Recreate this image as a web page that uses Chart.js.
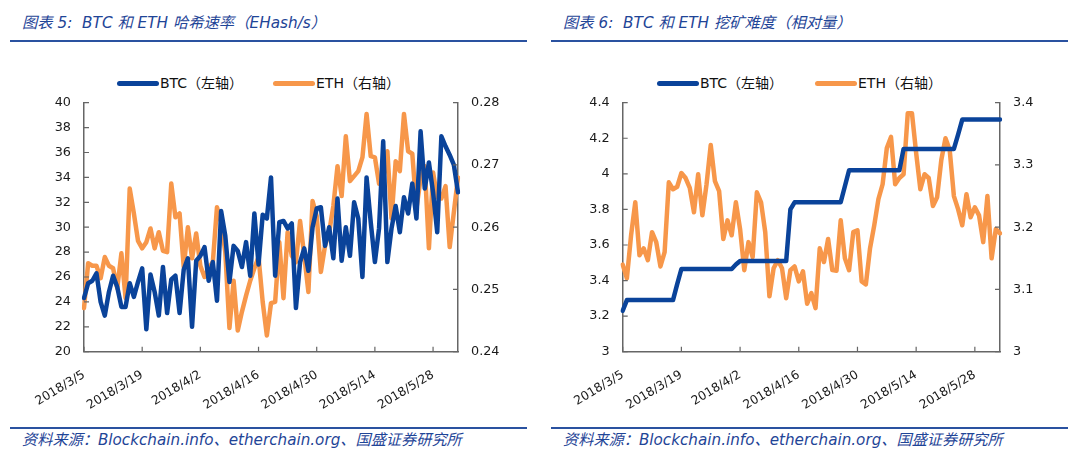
<!DOCTYPE html>
<html>
<head>
<meta charset="utf-8">
<script src="https://cdn.jsdelivr.net/npm/chart.js@4.4.1/dist/chart.umd.min.js"></script>
<style>
  body { margin: 0; width: 1080px; height: 463px; position: relative; background: #fff; overflow: hidden;
         font-family: "DejaVu Sans", "Noto Sans CJK SC", sans-serif; }
  .title, .source { position: absolute; color: #1f4597; font-style: italic; white-space: nowrap; }
  .title { font-size: 15.3px; top: 13px; line-height: 20px; }
  .source { font-size: 15.2px; top: 430px; line-height: 20px; }
  .rule { position: absolute; height: 2px; background: #2a52a0; width: 517px; }
  .legend-item { position: absolute; top: 75px; height: 17px; line-height: 17px; font-size: 14px; color: #111; white-space: nowrap; }
  .legend-item i { display: inline-block; width: 42px; height: 5px; border-radius: 3px; vertical-align: middle; margin-right: 1px; position: relative; top: -1px; }
  .box { position: absolute; top: 82px; width: 540px; height: 328px; }
</style>
</head>
<body>
<div class="title" style="left:22px">图表 5:&nbsp; BTC 和 ETH 哈希速率（EHash/s）</div>
<div class="rule" style="left:10px; top:40px"></div>
<div class="legend-item" style="left:117px"><i style="background:#0a439a"></i>BTC（左轴）</div>
<div class="legend-item" style="left:273px"><i style="background:#f7974a"></i>ETH（右轴）</div>
<div class="box" style="left:0"><canvas id="hashChart"></canvas></div>
<div class="rule" style="left:10px; top:427px"></div>
<div class="source" style="left:22px">资料来源：Blockchain.info、etherchain.org、国盛证券研究所</div>

<div class="title" style="left:563px">图表 6:&nbsp; BTC 和 ETH 挖矿难度（相对量）</div>
<div class="rule" style="left:551px; top:40px"></div>
<div class="legend-item" style="left:657px"><i style="background:#0a439a"></i>BTC（左轴）</div>
<div class="legend-item" style="left:815px"><i style="background:#f7974a"></i>ETH（右轴）</div>
<div class="box" style="left:540px"><canvas id="diffChart"></canvas></div>
<div class="rule" style="left:551px; top:427px"></div>
<div class="source" style="left:563px">资料来源：Blockchain.info、etherchain.org、国盛证券研究所</div>

<script>
// Dates (daily, 2018/3/5 - 2018/6/3)
const dates = [
  '2018/3/5','2018/3/6','2018/3/7','2018/3/8','2018/3/9','2018/3/10','2018/3/11','2018/3/12','2018/3/13','2018/3/14',
  '2018/3/15','2018/3/16','2018/3/17','2018/3/18','2018/3/19','2018/3/20','2018/3/21','2018/3/22','2018/3/23','2018/3/24',
  '2018/3/25','2018/3/26','2018/3/27','2018/3/28','2018/3/29','2018/3/30','2018/3/31','2018/4/1','2018/4/2','2018/4/3',
  '2018/4/4','2018/4/5','2018/4/6','2018/4/7','2018/4/8','2018/4/9','2018/4/10','2018/4/11','2018/4/12','2018/4/13',
  '2018/4/14','2018/4/15','2018/4/16','2018/4/17','2018/4/18','2018/4/19','2018/4/20','2018/4/21','2018/4/22','2018/4/23',
  '2018/4/24','2018/4/25','2018/4/26','2018/4/27','2018/4/28','2018/4/29','2018/4/30','2018/5/1','2018/5/2','2018/5/3',
  '2018/5/4','2018/5/5','2018/5/6','2018/5/7','2018/5/8','2018/5/9','2018/5/10','2018/5/11','2018/5/12','2018/5/13',
  '2018/5/14','2018/5/15','2018/5/16','2018/5/17','2018/5/18','2018/5/19','2018/5/20','2018/5/21','2018/5/22','2018/5/23',
  '2018/5/24','2018/5/25','2018/5/26','2018/5/27','2018/5/28','2018/5/29','2018/5/30','2018/5/31','2018/6/1','2018/6/2',
  '2018/6/3'
];
// Dates that get a label on the x axis
const tickDates = ['2018/3/5','2018/3/19','2018/4/2','2018/4/16','2018/4/30','2018/5/14','2018/5/28'];

// Chart 5: hash rate, EHash/s
const btcHash = [
  24.3,25.5,25.7,26.3,24.0,22.9,24.8,26.1,25.2,23.6,
  23.6,25.5,24.4,25.6,26.7,21.8,26.2,24.8,22.9,26.8,
  23.1,25.8,26.1,23.1,26.6,27.5,22.0,27.3,27.7,28.4,
  25.7,27.2,24.1,31.3,29.3,25.6,28.5,28.1,26.8,28.8,
  26.1,31.1,27.0,31.0,30.7,34.0,26.1,30.4,30.5,29.9,
  30.3,23.5,27.2,28.3,26.5,30.0,31.5,31.6,28.5,30.0,
  27.5,32.3,27.3,30.0,27.7,32.0,30.7,26.0,34.0,30.4,
  27.2,29.9,36.9,27.2,29.9,31.7,29.6,32.4,31.1,33.5,
  30.7,37.7,33.1,35.2,32.8,29.6,37.3,36.5,35.8,35.0,
  32.8
];
const ethHash = [
  0.2470,0.2542,0.2538,0.2538,0.2518,0.2552,0.2538,0.2534,0.2502,0.2558,
  0.2486,0.2662,0.2622,0.2578,0.2566,0.2576,0.2598,0.2566,0.2592,0.2562,
  0.2560,0.2670,0.2616,0.2622,0.2536,0.2600,0.2550,0.2590,0.2538,0.2520,
  0.2534,0.2544,0.2632,0.2608,0.2560,0.2438,0.2514,0.2434,0.2464,0.2490,
  0.2514,0.2534,0.2552,0.2480,0.2426,0.2478,0.2480,0.2576,0.2486,0.2592,
  0.2554,0.2544,0.2610,0.2554,0.2496,0.2642,0.2618,0.2528,0.2570,0.2592,
  0.2634,0.2698,0.2650,0.2746,0.2674,0.2682,0.2690,0.2712,0.2782,0.2714,
  0.2712,0.2670,0.2678,0.2722,0.2614,0.2706,0.2690,0.2782,0.2722,0.2718,
  0.2630,0.2678,0.2698,0.2566,0.2688,0.2648,0.2646,0.2666,0.2568,0.2624,
  0.2680
];

// Chart 6: mining difficulty (relative)
const btcDiff = [
  3.23,3.29,3.29,3.29,3.29,3.29,3.29,3.29,3.29,3.29,
  3.29,3.29,3.29,3.38,3.465,3.465,3.465,3.465,3.465,3.465,
  3.465,3.465,3.465,3.465,3.465,3.465,3.465,3.49,3.51,3.51,
  3.51,3.51,3.51,3.51,3.51,3.51,3.51,3.51,3.51,3.51,
  3.80,3.84,3.84,3.84,3.84,3.84,3.84,3.84,3.84,3.84,
  3.84,3.84,3.84,3.93,4.02,4.02,4.02,4.02,4.02,4.02,
  4.02,4.02,4.02,4.02,4.02,4.02,4.02,4.14,4.14,4.14,
  4.14,4.14,4.14,4.14,4.14,4.14,4.14,4.14,4.14,4.14,
  4.22,4.305,4.305,4.305,4.305,4.305,4.305,4.305,4.305,4.305,
  4.305
];
const ethDiff = [
  3.140,3.118,3.187,3.240,3.155,3.166,3.147,3.192,3.176,3.137,
  3.160,3.272,3.261,3.265,3.287,3.279,3.263,3.224,3.285,3.219,
  3.269,3.332,3.274,3.258,3.181,3.211,3.187,3.240,3.197,3.131,
  3.176,3.152,3.256,3.240,3.192,3.089,3.134,3.147,3.134,3.086,
  3.131,3.137,3.113,3.129,3.077,3.094,3.070,3.166,3.144,3.181,
  3.131,3.130,3.211,3.150,3.131,3.192,3.195,3.113,3.108,3.166,
  3.203,3.245,3.269,3.327,3.345,3.269,3.279,3.285,3.383,3.383,
  3.319,3.261,3.285,3.279,3.234,3.248,3.308,3.343,3.324,3.250,
  3.229,3.203,3.253,3.216,3.232,3.219,3.176,3.250,3.150,3.197,
  3.190
];

const BLUE = '#0a439a';
const ORANGE = '#f7974a';
const AXIS = '#666666';
const xFont = { family: '"DejaVu Sans", sans-serif', size: 12.3 };
const yFont = { family: '"DejaVu Sans", sans-serif', size: 12.8 };

// Excel style tick marks pointing into the plot
const innerTicks = {
  id: 'innerTicks',
  afterDraw(chart) {
    const ctx = chart.ctx;
    const len = 5;
    ctx.save();
    ctx.strokeStyle = AXIS;
    ctx.lineWidth = 1.2;
    ctx.beginPath();
    const x = chart.scales.x;
    x.ticks.forEach((t, i) => {
      if (!t.label) return;
      const px = x.getPixelForTick(i);
      ctx.moveTo(px, x.top);
      ctx.lineTo(px, x.top - len);
    });
    const yl = chart.scales.y;
    yl.ticks.forEach((t, i) => {
      const py = yl.getPixelForTick(i);
      ctx.moveTo(yl.right, py);
      ctx.lineTo(yl.right + len, py);
    });
    const yr = chart.scales.y1;
    yr.ticks.forEach((t, i) => {
      const py = yr.getPixelForTick(i);
      ctx.moveTo(yr.left, py);
      ctx.lineTo(yr.left - len, py);
    });
    ctx.stroke();
    ctx.restore();
  }
};

function lineSet(label, data, color, axis) {
  return {
    label: label,
    data: data,
    yAxisID: axis,
    borderColor: color,
    backgroundColor: color,
    borderWidth: 4.5,
    pointRadius: 0,
    tension: 0,
    borderJoinStyle: 'round',
    borderCapStyle: 'round'
  };
}

function makeChart(id, datasets, left, right, box) {
  const axisBase = {
    grid: { drawOnChartArea: false, drawTicks: false },
    border: { display: true, color: AXIS, width: 1.5 }
  };
  return new Chart(document.getElementById(id), {
    type: 'line',
    data: { labels: dates, datasets: datasets },
    options: {
      responsive: true,
      maintainAspectRatio: false,
      animation: false,
      layout: { padding: 0 },
      plugins: { legend: { display: false }, tooltip: { enabled: false } },
      scales: {
        x: Object.assign({}, axisBase, {
          offset: false,
          ticks: {
            autoSkip: false,
            minRotation: 31,
            maxRotation: 31,
            padding: 16,
            color: '#1a1a1a',
            font: xFont,
            callback: function(value, index) {
              const d = dates[index];
              return tickDates.includes(d) ? d : '';
            }
          },
          afterFit: function(scale) { scale.height = box.bottom; }
        }),
        y: Object.assign({}, axisBase, {
          position: 'left',
          min: left.min, max: left.max,
          ticks: { stepSize: left.step, padding: 13, color: '#1a1a1a', font: yFont,
                   callback: left.format },
          afterFit: function(scale) { scale.width = box.left; }
        }),
        y1: Object.assign({}, axisBase, {
          position: 'right',
          min: right.min, max: right.max,
          ticks: { stepSize: right.step, padding: 13, color: '#1a1a1a', font: yFont,
                   callback: right.format },
          afterFit: function(scale) { scale.width = box.right; }
        })
      }
    },
    plugins: [innerTicks]
  });
}

document.addEventListener('DOMContentLoaded', function() {
  makeChart('hashChart',
    [lineSet('BTC（左轴）', btcHash, BLUE, 'y'), lineSet('ETH（右轴）', ethHash, ORANGE, 'y1')],
    { min: 20, max: 40, step: 2, format: v => String(v) },
    { min: 0.24, max: 0.28, step: 0.01, format: v => v.toFixed(2) },
    { bottom: 58.3, left: 84, right: 82 });

  makeChart('diffChart',
    [lineSet('BTC（左轴）', btcDiff, BLUE, 'y'), lineSet('ETH（右轴）', ethDiff, ORANGE, 'y1')],
    { min: 3, max: 4.4, step: 0.2, format: v => String(+v.toFixed(1)) },
    { min: 3, max: 3.4, step: 0.1, format: v => String(+v.toFixed(1)) },
    { bottom: 58.3, left: 82.7, right: 80 });
});
</script>
</body>
</html>
